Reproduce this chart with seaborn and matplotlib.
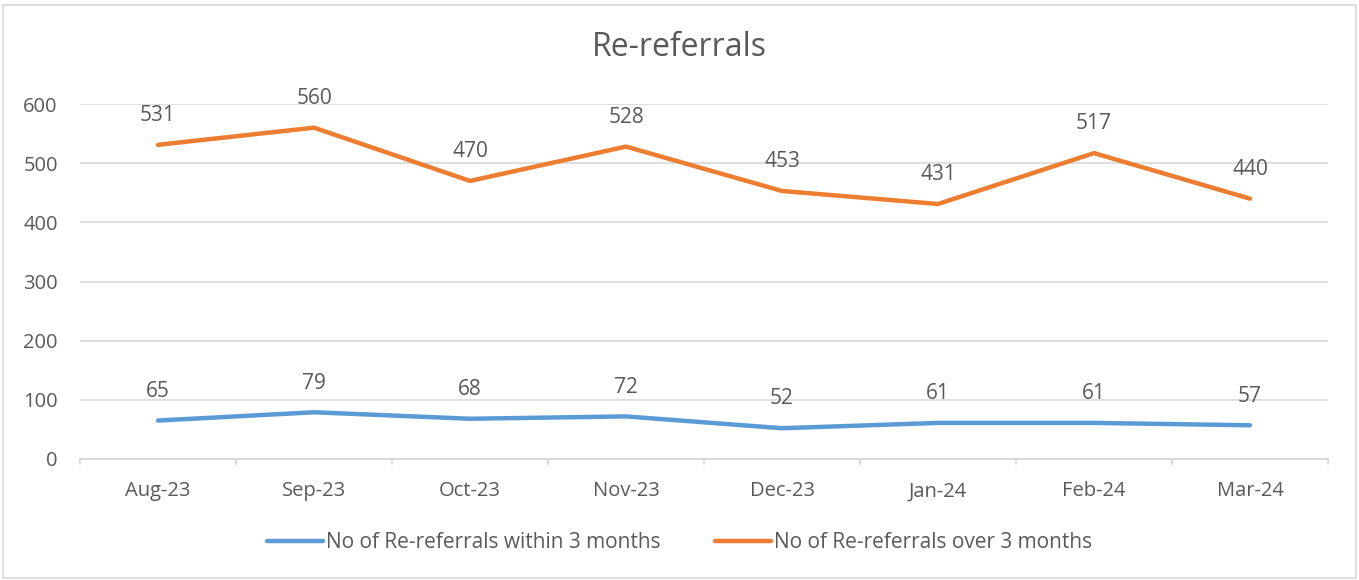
import matplotlib
matplotlib.use("Agg")
import matplotlib.pyplot as plt
import seaborn as sns
import pandas as pd
from matplotlib.patches import Rectangle
from matplotlib.lines import Line2D

months = ["Aug-23", "Sep-23", "Oct-23", "Nov-23", "Dec-23", "Jan-24", "Feb-24", "Mar-24"]
within_3 = [65, 79, 68, 72, 52, 61, 61, 57]
over_3 = [531, 560, 470, 528, 453, 431, 517, 440]
series_names = ["No of Re-referrals within 3 months", "No of Re-referrals over 3 months"]
yticks = [0, 100, 200, 300, 400, 500, 600]

sns.set_theme(style="white")
plt.rcParams['font.family'] = ['Open Sans', 'DejaVu Sans']

text_color = "#595959"
grid_color = "#D9D9D9"
colors = ["#5B9BD5", "#ED7D31"]
fs = 14.5

df = pd.DataFrame({
    "month": months * 2,
    "value": within_3 + over_3,
    "series": [series_names[0]] * len(months) + [series_names[1]] * len(months),
})
df["x"] = list(range(len(months))) * 2

fig = plt.figure(figsize=(13.59, 5.80), dpi=100)
fig.patches.append(Rectangle((0.0025, 0.003), 0.9955, 0.989, transform=fig.transFigure,
                             fill=False, edgecolor="#D9D9D9", linewidth=1.2))
ax = fig.add_axes([80/1359, 1-459/580, (1328-80)/1359, (459-104)/580])

sns.lineplot(data=df, x="x", y="value", hue="series", palette=colors, linewidth=3.2,
             ax=ax, legend=False, solid_capstyle="round")

ax.set_xlim(-0.5, len(months) - 0.5)
ax.set_ylim(0, 600)
ax.set_yticks(yticks)
ax.set_yticklabels([str(v) for v in yticks], fontsize=fs, color=text_color)
ax.set_xticks(range(len(months)))
ax.set_xticklabels(months, fontsize=fs, color=text_color)
ax.tick_params(axis="x", length=0, pad=16)
ax.tick_params(axis="y", length=0, pad=16)
for v in yticks[1:]:
    ax.axhline(v, color=grid_color, linewidth=1.2, zorder=0)
for s in ["top", "right", "left"]:
    ax.spines[s].set_visible(False)
ax.spines["bottom"].set_color(grid_color)
ax.spines["bottom"].set_linewidth(1.4)
# category boundary tick marks
for b in range(len(months) + 1):
    ax.plot([b - 0.5, b - 0.5], [0, -8], color=grid_color, linewidth=1.4, clip_on=False)
ax.set_xlabel("")
ax.set_ylabel("")

for vals in (within_3, over_3):
    for i, v in enumerate(vals):
        ax.annotate(str(v), (i, v), xytext=(0, 13.5), textcoords="offset points",
                    ha="center", va="bottom", fontsize=fs + 0.5, color=text_color)

fig.text(0.5, 1-48/580, "Re-referrals", ha="center", va="center", fontsize=23, color=text_color)

handles = [Line2D([0], [0], color=c, linewidth=3.2, solid_capstyle="round") for c in colors]
fig.legend(handles, series_names, loc="center", bbox_to_anchor=(0.5, 1-543/580), ncol=2,
           frameon=False, fontsize=fs + 0.5, labelcolor=text_color, handlelength=2.7,
           handletextpad=0.15, columnspacing=2.6)

fig.savefig("out.png", dpi=100)
